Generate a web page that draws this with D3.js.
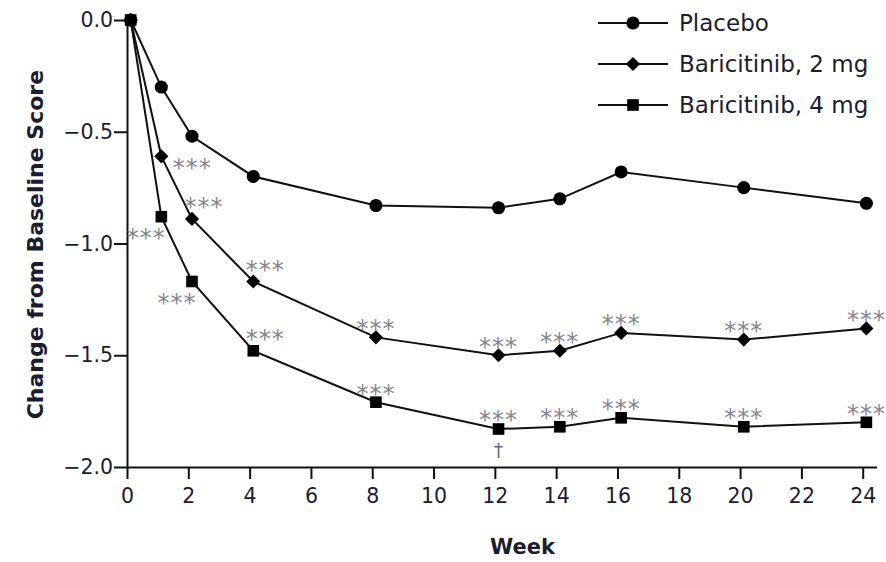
<!DOCTYPE html>
<html><head><meta charset="utf-8">
<script src="https://cdn.jsdelivr.net/npm/d3@7"></script>
<style>body{margin:0;background:#fff} svg{display:block}</style>
</head><body>
<script>
// ---- data ----
const weeks   = [0, 1, 2, 4, 8, 12, 14, 16, 20, 24];
const placebo = [0, -0.30, -0.52, -0.70, -0.83, -0.84, -0.80, -0.68, -0.75, -0.82];
const bari2   = [0, -0.61, -0.89, -1.17, -1.42, -1.50, -1.48, -1.40, -1.43, -1.38];
const bari4   = [0, -0.88, -1.17, -1.48, -1.71, -1.83, -1.82, -1.78, -1.82, -1.80];
const seriesNames = ["Placebo", "Baricitinib, 2 mg", "Baricitinib, 4 mg"];
const xTicks = [0, 2, 4, 6, 8, 10, 12, 14, 16, 18, 20, 22, 24];
const yTicks = [0, -0.5, -1.0, -1.5, -2.0];
const bari2Sig = ["", "***", "***", "***", "***", "***", "***", "***", "***", "***"];
const bari4Sig = ["", "***", "***", "***", "***", "***", "***", "***", "***", "***"];
const bari4Dagger = ["", "", "", "", "", "\u2020", "", "", "", ""];
const bari2Place = [null, "right", "aboveRight", "aboveRight", "above", "above", "above", "above", "above", "above"];
const bari4Place = [null, "belowLeft", "belowLeft", "aboveRight", "above", "above", "above", "above", "above", "above"];
const xTitle = "Week";
const yTitle = "Change from Baseline Score";

// ---- setup ----
const W = 886, H = 562;
const FONT = "'DejaVu Sans', sans-serif";
const TXT = "#1c1c30";
const STAR = "#85858f";
const svg = d3.select("body").append("svg").attr("width", W).attr("height", H)
  .style("font-family", FONT);

const x = d3.scaleLinear().domain([0, 24.45]).range([127, 876.5]);
const y = d3.scaleLinear().domain([-2, 0]).range([467, 20]);
const xOff = 0.12; // markers plotted slightly right of the week tick, as in the source

// axes
const gx = svg.append("g").attr("transform", `translate(0,${y(-2)})`)
  .call(d3.axisBottom(x).tickValues(xTicks).tickSize(12).tickSizeOuter(0).tickPadding(9).tickFormat(d3.format("d")));
const gy = svg.append("g").attr("transform", `translate(${x(0)},0)`)
  .call(d3.axisLeft(y).tickValues(yTicks).tickSize(13).tickSizeOuter(0).tickPadding(1).tickFormat(d3.format(".1f")));
[gx, gy].forEach(g => {
  g.selectAll("path.domain").attr("stroke", "#111").attr("stroke-width", 2);
  g.selectAll(".tick line").attr("stroke", "#111").attr("stroke-width", 2);
  g.selectAll(".tick text").attr("fill", TXT).style("font-size", "20.5px").style("font-family", FONT);
});

// titles
svg.append("text").attr("x", x(12.9)).attr("y", 554).attr("text-anchor", "middle")
  .attr("fill", TXT).style("font-size", "21px").style("font-weight", "bold").text(xTitle);
svg.append("text").attr("transform", `translate(43,${y(-1.005)}) rotate(-90)`).attr("text-anchor", "middle")
  .attr("fill", TXT).style("font-size", "22px").style("font-weight", "bold").text(yTitle);

// series
const series = [
  {name: seriesNames[0], vals: placebo, shape: d3.symbolCircle, size: 135, rot: 0},
  {name: seriesNames[1], vals: bari2, shape: d3.symbolSquare, size: 100, rot: 45},
  {name: seriesNames[2], vals: bari4, shape: d3.symbolSquare, size: 135, rot: 0}
];
const line = d3.line().x(d => x(d[0] + xOff)).y(d => y(d[1]));
series.forEach(s => {
  const pts = weeks.map((w, i) => [w, s.vals[i]]);
  svg.append("path").attr("d", line(pts)).attr("fill", "none").attr("stroke", "#111").attr("stroke-width", 2);
  svg.selectAll(null).data(pts).enter().append("path")
    .attr("d", d3.symbol().type(s.shape).size(s.size))
    .attr("transform", d => `translate(${x(d[0] + xOff)},${y(d[1])}) rotate(${s.rot})`)
    .attr("fill", "#000");
});

// significance annotations
const SFS = 24;
function starPos(px, py, place) {
  switch (place) {
    case "right": return [px + 31, py + 5];
    case "aboveRight": return [px + 12, py - 18];
    case "belowLeft": return [px - 15, py + 15];
    default: return [px, py - 15];
  }
}
function addStars(vals, sig, place) {
  weeks.forEach((w, i) => {
    if (!sig[i]) return;
    const [cx, cy] = starPos(x(w + xOff), y(vals[i]), place[i]);
    svg.append("text").attr("x", cx).attr("y", cy + SFS * 0.6).attr("text-anchor", "middle")
      .attr("fill", STAR).style("font-size", SFS + "px").style("letter-spacing", "1px").text(sig[i]);
  });
}
addStars(bari2, bari2Sig, bari2Place);
addStars(bari4, bari4Sig, bari4Place);
weeks.forEach((w, i) => {
  if (!bari4Dagger[i]) return;
  svg.append("text").attr("x", x(w + xOff)).attr("y", y(bari4[i]) + 28).attr("text-anchor", "middle")
    .attr("fill", "#6a6a90").style("font-size", "19px").text(bari4Dagger[i]);
});

// legend
const legY = [23, 64, 105];
series.forEach((s, i) => {
  const g = svg.append("g").attr("transform", `translate(0,${legY[i]})`);
  g.append("line").attr("x1", 598).attr("x2", 668).attr("y1", 0).attr("y2", 0).attr("stroke", "#111").attr("stroke-width", 2);
  g.append("path").attr("d", d3.symbol().type(s.shape).size(s.size)).attr("transform", `translate(633,0) rotate(${s.rot})`).attr("fill", "#000");
  g.append("text").attr("x", 679).attr("y", 0).attr("dy", "0.36em").attr("fill", TXT)
    .style("font-size", "23px").text(s.name);
});
</script>
</body></html>
